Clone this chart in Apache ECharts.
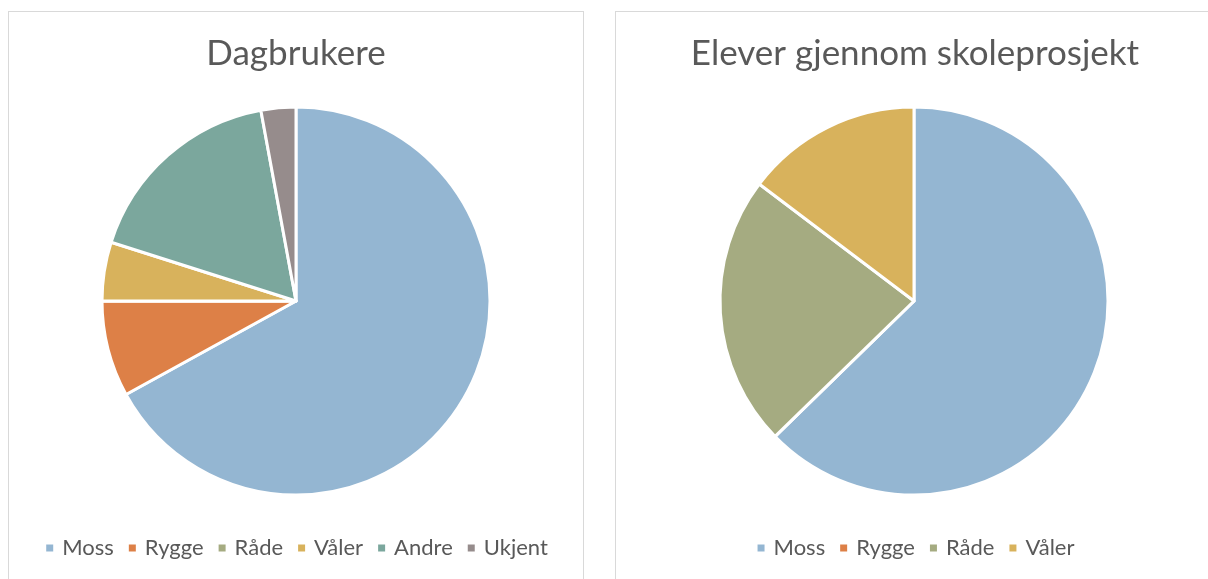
<!DOCTYPE html>
<html>
<head>
<meta charset="utf-8">
<script src="https://cdn.jsdelivr.net/npm/echarts@6/dist/echarts.min.js"></script>
<style>
  html, body { margin: 0; padding: 0; background: #fff; overflow: hidden; width: 1208px; height: 579px; }
  .panel { position: absolute; border: 1px solid #d9d9d9; box-sizing: border-box; }
</style>
</head>
<body>
<div id="chartLeft" class="panel" style="left: 8px; top: 11px; width: 576px; height: 590px;"></div>
<div id="chartRight" class="panel" style="left: 615px; top: 11px; width: 600px; height: 590px;"></div>
<script>
// kategorier og verdier (andeler lest av bildet)
const categories = ['Moss', 'Rygge', 'Råde', 'Våler', 'Andre', 'Ukjent'];
const dagbrukere = [67, 8, 0, 4.9, 17.2, 2.9];
const skoleCategories = ['Moss', 'Rygge', 'Råde', 'Våler'];
const skoleprosjekt = [62.7, 0, 22.6, 14.7];
const colors = ['#94b6d2', '#dd8047', '#a5ab81', '#d8b25c', '#7ba79d', '#968c8c'];

const fontFamily = 'Lato, "Open Sans", sans-serif';

function makeOption(title, names, values) {
  return {
    color: colors,
    animation: false,
    title: {
      text: title,
      left: 'center',
      top: 19,
      textStyle: { fontFamily: fontFamily, fontSize: 35, fontWeight: 'normal', color: '#595959' }
    },
    legend: {
      data: names,
      left: 'center',
      top: 520,
      icon: 'rect',
      itemWidth: 9,
      itemHeight: 9,
      itemGap: 13,
      selectedMode: false,
      textStyle: { fontFamily: fontFamily, fontSize: 22, color: '#595959', padding: [0, 0, 0, 3] }
    },
    series: [{
      name: title,
      type: 'pie',
      radius: 194,
      center: [287, 289],
      startAngle: 90,
      clockwise: true,
      label: { show: false },
      labelLine: { show: false },
      itemStyle: { borderColor: '#fff', borderWidth: 3 },
      emphasis: { disabled: true },
      data: names.map((n, i) => ({ name: n, value: values[i] }))
    }]
  };
}

const left = echarts.init(document.getElementById('chartLeft'));
left.setOption(makeOption('Dagbrukere', categories, dagbrukere));

const right = echarts.init(document.getElementById('chartRight'));
const optRight = makeOption('Elever gjennom skoleprosjekt', skoleCategories, skoleprosjekt);
optRight.series[0].center = [298, 289];
right.setOption(optRight);
</script>
</body>
</html>
